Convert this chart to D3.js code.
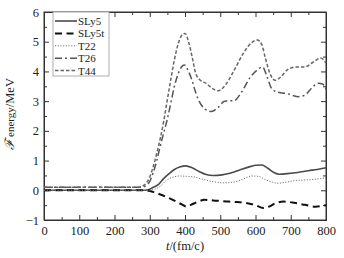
<!DOCTYPE html>
<html>
<head>
<meta charset="utf-8">
<script src="https://cdn.jsdelivr.net/npm/d3@7"></script>
<style>
  body { margin: 0; background: #fff; }
  svg { display: block; }
  .axis text { font-family: "Liberation Serif", "DejaVu Serif", serif; font-size: 12.5px; fill: #222; }
  .axis path, .axis line { stroke: #333; }
</style>
</head>
<body>
<div id="chart"></div>
<script>
// series data: [t (fm/c), energy (MeV)]
const sly5 = [[0,0],[280,0],[295,0.02],[310,0.1],[325,0.2],[340,0.4],[355,0.56],[370,0.7],[385,0.78],[402,0.82],[420,0.76],[440,0.63],[460,0.53],[480,0.5],[505,0.52],[530,0.58],[555,0.68],[580,0.78],[600,0.84],[618,0.85],[635,0.74],[652,0.6],[668,0.54],[690,0.56],[720,0.6],[750,0.66],[775,0.7],[800,0.76]];
const sly5t = [[0,0],[290,0],[305,-0.04],[330,-0.14],[350,-0.24],[370,-0.35],[390,-0.47],[405,-0.55],[420,-0.47],[440,-0.37],[455,-0.32],[480,-0.34],[510,-0.37],[540,-0.39],[570,-0.42],[600,-0.5],[622,-0.6],[640,-0.54],[656,-0.44],[680,-0.38],[710,-0.42],[740,-0.49],[770,-0.55],[800,-0.5]];
const t22 = [[0,0],[300,0],[315,0.04],[330,0.14],[348,0.34],[365,0.44],[385,0.48],[405,0.47],[425,0.45],[450,0.37],[480,0.29],[510,0.25],[540,0.28],[565,0.38],[590,0.48],[608,0.47],[628,0.36],[648,0.27],[665,0.24],[690,0.28],[715,0.33],[745,0.35],[775,0.38],[800,0.42]];
const t26 = [[0,0.1],[275,0.1],[290,0.16],[300,0.3],[310,0.6],[320,1.0],[330,1.5],[340,1.95],[350,2.4],[360,2.95],[370,3.5],[380,3.9],[390,4.15],[398,4.22],[410,4.0],[420,3.7],[430,3.3],[440,3.0],[455,2.75],[475,2.65],[495,2.8],[512,3.0],[540,3.02],[560,3.3],[585,3.8],[605,4.05],[620,4.15],[632,3.85],[647,3.4],[665,3.3],[690,3.25],[720,3.15],[740,3.2],[760,3.45],[778,3.6],[790,3.58],[800,3.4]];
const t44 = [[0,0.1],[268,0.1],[285,0.18],[300,0.45],[310,0.8],[320,1.25],[330,1.75],[340,2.35],[350,3.05],[360,3.75],[370,4.4],[380,4.9],[390,5.2],[400,5.28],[410,5.0],[420,4.5],[430,3.95],[442,3.72],[460,3.6],[478,3.42],[494,3.35],[515,3.55],[540,4.05],[565,4.6],[590,4.98],[605,5.06],[618,4.9],[628,4.45],[642,3.9],[656,3.7],[672,3.82],[692,4.07],[715,4.15],[740,4.15],[762,4.3],[785,4.45],[800,4.28]];

const seriesNames = ['SLy5', 'SLy5t', 'T22', 'T26', 'T44'];
const seriesData = [sly5, sly5t, t22, t26, t44];
const seriesStyle = [
  {color: '#4a4a4a', width: 1.6, dash: null},
  {color: '#111', width: 2, dash: '7,4.5'},
  {color: '#777', width: 1, dash: '1.2,1.5'},
  {color: '#555', width: 1.5, dash: '7,3,2,3'},
  {color: '#666', width: 1.5, dash: '3.5,2'}
];

const xTicks = [0, 100, 200, 300, 400, 500, 600, 700, 800];
const yTicks = [-1, 0, 1, 2, 3, 4, 5, 6];

const W = 344, H = 258;
const margin = {top: 12, right: 18, bottom: 38, left: 44};
const width = W - margin.left - margin.right;
const height = H - margin.top - margin.bottom;

const svg = d3.select('#chart').append('svg')
  .attr('width', W).attr('height', H);
const g = svg.append('g')
  .attr('transform', `translate(${margin.left},${margin.top})`);

const x = d3.scaleLinear().domain([0, 800]).range([0, width]);
const y = d3.scaleLinear().domain([-1, 6]).range([height, 0]);

const xMinor = d3.range(50, 800, 100);
const yMinor = d3.range(-0.5, 6, 1);

// bottom
g.append('g').attr('class', 'axis')
  .attr('transform', `translate(0,${height})`)
  .call(d3.axisBottom(x).tickValues(xTicks).tickSizeInner(-5).tickSizeOuter(0).tickPadding(6));
g.append('g').attr('class', 'axis')
  .attr('transform', `translate(0,${height})`)
  .call(d3.axisBottom(x).tickValues(xMinor).tickFormat('').tickSizeInner(-3).tickSizeOuter(0));
// top
g.append('g').attr('class', 'axis')
  .call(d3.axisTop(x).tickValues(xTicks).tickFormat('').tickSizeInner(-5).tickSizeOuter(0));
g.append('g').attr('class', 'axis')
  .call(d3.axisTop(x).tickValues(xMinor).tickFormat('').tickSizeInner(-3).tickSizeOuter(0));
// left
g.append('g').attr('class', 'axis')
  .call(d3.axisLeft(y).tickValues(yTicks).tickFormat(d => d < 0 ? '\u2212' + Math.abs(d) : d)
    .tickSizeInner(-5).tickSizeOuter(0).tickPadding(5));
g.append('g').attr('class', 'axis')
  .call(d3.axisLeft(y).tickValues(yMinor).tickFormat('').tickSizeInner(-3).tickSizeOuter(0));
// right
g.append('g').attr('class', 'axis')
  .attr('transform', `translate(${width},0)`)
  .call(d3.axisRight(y).tickValues(yTicks).tickFormat('').tickSizeInner(-5).tickSizeOuter(0));
g.append('g').attr('class', 'axis')
  .attr('transform', `translate(${width},0)`)
  .call(d3.axisRight(y).tickValues(yMinor).tickFormat('').tickSizeInner(-3).tickSizeOuter(0));

// frame
g.append('rect')
  .attr('width', width).attr('height', height)
  .attr('fill', 'none').attr('stroke', '#333').attr('stroke-width', 1);

// lines
const line = d3.line()
  .x(d => x(d[0]))
  .y(d => y(d[1]))
  .curve(d3.curveMonotoneX);

seriesData.forEach((data, i) => {
  const s = seriesStyle[i];
  g.append('path')
    .datum(data)
    .attr('d', line)
    .attr('fill', 'none')
    .attr('stroke', s.color)
    .attr('stroke-width', s.width)
    .attr('stroke-dasharray', s.dash);
});

// legend
const legend = g.append('g').attr('transform', 'translate(9,0)');
legend.append('rect')
  .attr('width', 56).attr('height', 64)
  .attr('fill', '#fff').attr('stroke', '#999').attr('stroke-width', 0.8);
seriesNames.forEach((name, i) => {
  const s = seriesStyle[i];
  const ly = 9 + i * 12.4;
  legend.append('line')
    .attr('x1', 2).attr('x2', 24).attr('y1', ly).attr('y2', ly)
    .attr('stroke', s.color).attr('stroke-width', s.width)
    .attr('stroke-dasharray', s.dash);
  legend.append('text')
    .attr('x', 25).attr('y', ly + 4)
    .style('font-family', '"Liberation Serif", serif')
    .style('font-size', '11px')
    .attr('fill', '#222')
    .text(name);
});

// axis titles
const xt = svg.append('text')
  .attr('x', margin.left + width / 2).attr('y', 250)
  .attr('text-anchor', 'middle')
  .style('font-family', '"Liberation Serif", serif')
  .style('font-size', '12.5px')
  .attr('fill', '#222');
xt.append('tspan').style('font-style', 'italic').text('t');
xt.append('tspan').text('/(fm/c)');

const yt = svg.append('text')
  .attr('transform', `translate(14,${margin.top + height / 2 - 2}) rotate(-90)`)
  .attr('text-anchor', 'middle')
  .style('font-family', '"Liberation Serif", serif')
  .style('font-size', '12.5px')
  .attr('fill', '#222');
yt.append('tspan').style('font-family', '"DejaVu Serif", serif').style('font-style', 'italic').style('font-size', '13px').text('\u2131');
yt.append('tspan').attr('dx', 2).style('font-size', '11px').text('energy');
yt.append('tspan').text('/MeV');
</script>
</body>
</html>
